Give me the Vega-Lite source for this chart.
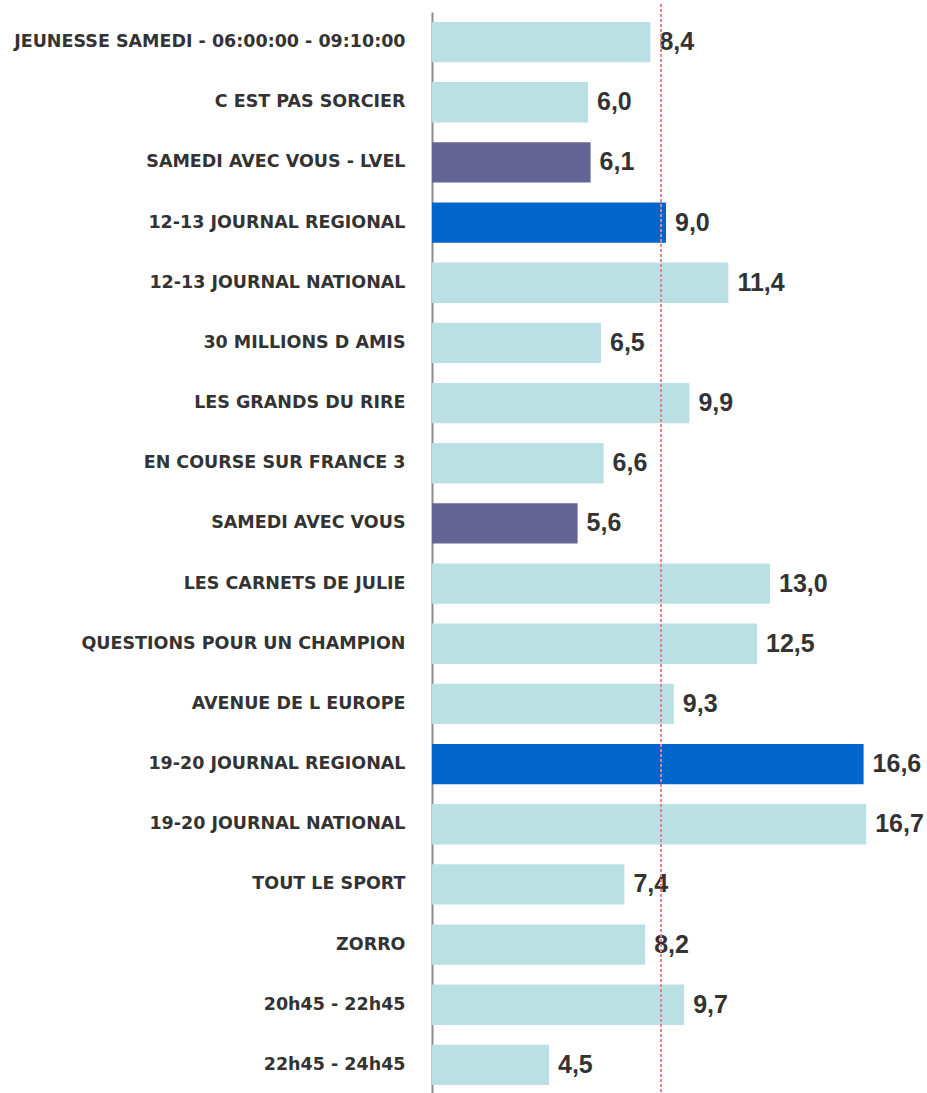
{
  "$schema": "https://vega.github.io/schema/vega-lite/v6.json",
  "autosize": {"type": "none"},
  "padding": {"left": 432, "top": 12, "right": 1, "bottom": 0},
  "width": 494,
  "height": 1083,
  "config": {
    "view": {"stroke": null},
    "locale": {"number": {"decimal": ",", "thousands": " ", "grouping": [3], "currency": ["", " €"]}}
  },
  "data": {
    "values": [
      {"programme": "JEUNESSE SAMEDI - 06:00:00 - 09:10:00", "value": 8.4, "kind": "autre"},
      {"programme": "C EST PAS SORCIER", "value": 6.0, "kind": "autre"},
      {"programme": "SAMEDI AVEC VOUS - LVEL", "value": 6.1, "kind": "samedi"},
      {"programme": "12-13 JOURNAL REGIONAL", "value": 9.0, "kind": "regional"},
      {"programme": "12-13 JOURNAL NATIONAL", "value": 11.4, "kind": "autre"},
      {"programme": "30 MILLIONS D AMIS", "value": 6.5, "kind": "autre"},
      {"programme": "LES GRANDS DU RIRE", "value": 9.9, "kind": "autre"},
      {"programme": "EN COURSE SUR FRANCE 3", "value": 6.6, "kind": "autre"},
      {"programme": "SAMEDI AVEC VOUS", "value": 5.6, "kind": "samedi"},
      {"programme": "LES CARNETS DE JULIE", "value": 13.0, "kind": "autre"},
      {"programme": "QUESTIONS POUR UN CHAMPION", "value": 12.5, "kind": "autre"},
      {"programme": "AVENUE DE L EUROPE", "value": 9.3, "kind": "autre"},
      {"programme": "19-20 JOURNAL REGIONAL", "value": 16.6, "kind": "regional"},
      {"programme": "19-20 JOURNAL NATIONAL", "value": 16.7, "kind": "autre"},
      {"programme": "TOUT LE SPORT", "value": 7.4, "kind": "autre"},
      {"programme": "ZORRO", "value": 8.2, "kind": "autre"},
      {"programme": "20h45 - 22h45", "value": 9.7, "kind": "autre"},
      {"programme": "22h45 - 24h45", "value": 4.5, "kind": "autre"}
    ]
  },
  "encoding": {
    "y": {
      "field": "programme",
      "type": "nominal",
      "sort": null,
      "scale": {"paddingInner": 0.33, "paddingOuter": 0.165},
      "axis": {
        "title": null,
        "ticks": false,
        "labelPadding": 27,
        "labelFont": "DejaVu Sans",
        "labelFontSize": 17.5,
        "labelFontWeight": "bold",
        "labelColor": "#333333",
        "labelLimit": 0,
        "domainColor": "#8c8c8c",
        "domainWidth": 2
      }
    },
    "x": {
      "field": "value",
      "type": "quantitative",
      "scale": {"domain": [0, 19], "nice": false, "zero": true},
      "axis": null
    }
  },
  "layer": [
    {
      "mark": {"type": "bar"},
      "encoding": {
        "color": {
          "field": "kind",
          "type": "nominal",
          "scale": {"domain": ["autre", "samedi", "regional"], "range": ["#BAE0E3", "#646496", "#0066CC"]},
          "legend": null
        }
      }
    },
    {
      "mark": {"type": "text", "align": "left", "baseline": "middle", "dx": 9, "font": "Liberation Sans", "fontSize": 25, "fontWeight": "bold", "color": "#333333"},
      "encoding": {
        "text": {"field": "value", "type": "quantitative", "format": ".1f"}
      }
    },
    {
      "mark": {"type": "rule", "color": "#E8808A", "strokeWidth": 1, "strokeDash": [3, 2]},
      "encoding": {"x": {"datum": 8.8}, "y": {"value": -8}, "y2": {"value": 1083}}
    }
  ]
}
